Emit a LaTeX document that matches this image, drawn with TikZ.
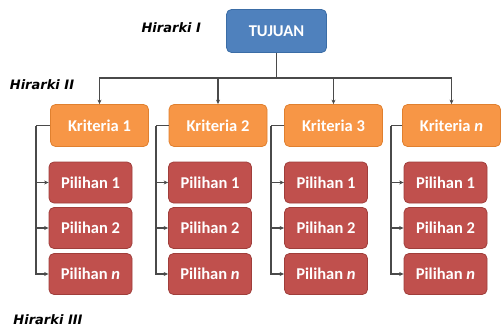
\documentclass[tikz,border=0pt]{standalone}
\usepackage{fontspec}
\setmainfont{Carlito}
\newfontfamily\hfont{DejaVu Sans}
\usetikzlibrary{arrows.meta}
\definecolor{tblue}{HTML}{4F81BD}
\definecolor{tblueD}{HTML}{3B6DA6}
\definecolor{korange}{HTML}{F79646}
\definecolor{korangeD}{HTML}{E0802F}
\definecolor{pred}{HTML}{C0504D}
\definecolor{predD}{HTML}{A03E3B}
\definecolor{lgray}{HTML}{4A4A4A}
\tikzset{
  boxbase/.style={rounded corners=5pt, line width=0.8pt, text=white, font=\bfseries\fontsize{16.5}{18}\selectfont, align=center, inner sep=0pt},
  tbox/.style={boxbase, fill=tblue, draw=tblueD, minimum width=100pt, minimum height=43pt},
  kbox/.style={boxbase, fill=korange, draw=korangeD, minimum width=98pt, minimum height=42pt},
  pbox/.style={boxbase, fill=pred, draw=predD, minimum width=83pt, minimum height=41pt},
  hlabel/.style={font=\hfont\bfseries\itshape\fontsize{13}{15}\selectfont, text=black, inner sep=0pt},
  conn/.style={draw=lgray, line width=1.2pt},
  arr/.style={conn, -{Stealth[length=4.5pt,width=4pt]}}
}
\begin{document}
\begin{tikzpicture}[x=1pt,y=-1pt]
\useasboundingbox (0,0) rectangle (501,329);
% labels
\node[hlabel] (h1) at (171.3,28) {Hirarki I};
\node[hlabel] (h2) at (42,85) {Hirarki II};
\node[hlabel] (h3) at (48,320) {Hirarki III};
% top
\node[tbox] (t) at (276.5,31) {TUJUAN};
% criteria
\node[kbox] (k1) at (99.5,125.5) {Kriteria 1};
\node[kbox] (k2) at (218,125.5) {Kriteria 2};
\node[kbox] (k3) at (333.5,125.5) {Kriteria 3};
\node[kbox] (k4) at (451.5,125.5) {Kriteria \textit{n}};
% options
\foreach \c/\x in {1/90.5,2/210,3/326,4/445.5}{
  \node[pbox] (p\c1) at (\x,182.5) {Pilihan 1};
  \node[pbox] (p\c2) at (\x,228) {Pilihan 2};
  \node[pbox] (p\c3) at (\x,274) {Pilihan \textit{n}};
}
% bus
\coordinate (bus) at (276.5,78);
\draw[conn] (t.south) -- (bus);
\foreach \k in {1,2,3,4}{
  \draw[arr] (bus) -| (k\k.north);
}
% left connectors
\coordinate (c1) at (36,125.5);
\coordinate (c2) at (156,125.5);
\coordinate (c3) at (271,125.5);
\coordinate (c4) at (391,125.5);
\foreach \c in {1,2,3,4}{
  \draw[conn] (k\c.west) -- (c\c);
  \foreach \r in {1,2,3}{
    \draw[arr] (c\c) |- (p\c\r.west);
  }
}
\end{tikzpicture}
\end{document}
